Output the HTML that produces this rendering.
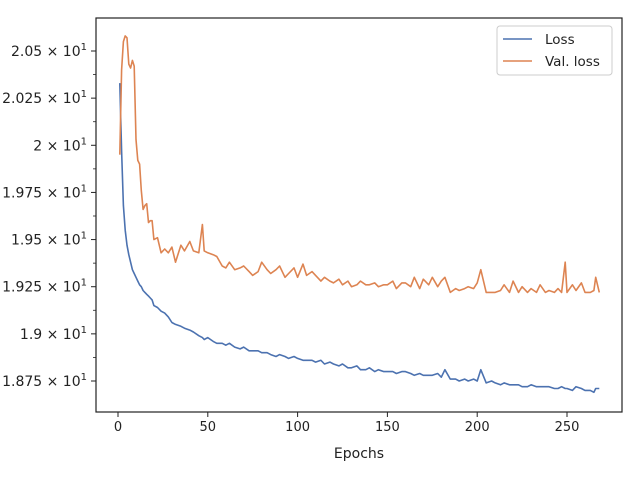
<!DOCTYPE html>
<html><head><meta charset="utf-8"><style>
html,body{margin:0;padding:0;background:#fff;}
svg text{font-family:"DejaVu Sans","Liberation Sans",sans-serif;fill:#222;}
</style></head><body>
<svg id="chart" width="640" height="480" viewBox="0 0 640 480" xmlns="http://www.w3.org/2000/svg"></svg>
<script>
const epochs = [1,2,3,4,5,6,7,8,9,10,11,12,13,14,15,16,17,18,19,20,22,24,26,28,30,32,35,37,40,42,45,47,48,50,53,55,58,60,62,65,68,70,73,75,78,80,83,85,88,90,93,95,98,100,103,105,108,110,113,115,118,120,123,125,128,130,133,135,138,140,143,145,148,150,153,155,158,160,163,165,168,170,173,175,178,180,182,185,188,190,193,195,198,200,202,205,208,210,213,215,218,220,223,225,228,230,233,235,238,240,243,245,247,249,250,253,255,258,260,263,265,266,268];
const loss = [20.33,19.97,19.68,19.55,19.47,19.42,19.38,19.34,19.32,19.30,19.28,19.26,19.25,19.23,19.22,19.21,19.20,19.19,19.18,19.15,19.14,19.12,19.11,19.09,19.06,19.05,19.04,19.03,19.02,19.01,18.99,18.98,18.97,18.98,18.96,18.95,18.95,18.94,18.95,18.93,18.92,18.93,18.91,18.91,18.91,18.90,18.90,18.89,18.88,18.89,18.88,18.87,18.88,18.87,18.86,18.86,18.86,18.85,18.86,18.84,18.85,18.84,18.83,18.84,18.82,18.82,18.83,18.81,18.81,18.82,18.80,18.81,18.80,18.80,18.80,18.79,18.80,18.80,18.79,18.78,18.79,18.78,18.78,18.78,18.79,18.77,18.81,18.76,18.76,18.75,18.76,18.75,18.76,18.75,18.81,18.74,18.75,18.74,18.73,18.74,18.73,18.73,18.73,18.72,18.72,18.73,18.72,18.72,18.72,18.72,18.71,18.71,18.72,18.71,18.71,18.70,18.72,18.71,18.70,18.70,18.69,18.71,18.71];
const val = [19.95,20.40,20.55,20.58,20.57,20.43,20.41,20.45,20.42,20.03,19.92,19.90,19.76,19.66,19.68,19.69,19.59,19.60,19.60,19.50,19.51,19.43,19.45,19.43,19.46,19.38,19.47,19.44,19.49,19.44,19.43,19.58,19.44,19.43,19.42,19.41,19.36,19.35,19.38,19.34,19.35,19.36,19.33,19.31,19.33,19.38,19.34,19.32,19.34,19.36,19.30,19.32,19.35,19.30,19.37,19.31,19.33,19.31,19.28,19.30,19.28,19.27,19.29,19.26,19.28,19.25,19.26,19.28,19.26,19.26,19.27,19.25,19.26,19.26,19.28,19.24,19.27,19.27,19.25,19.30,19.24,19.29,19.26,19.30,19.25,19.28,19.30,19.22,19.24,19.23,19.24,19.25,19.24,19.27,19.34,19.22,19.22,19.22,19.23,19.26,19.22,19.28,19.22,19.25,19.22,19.24,19.22,19.26,19.22,19.23,19.22,19.24,19.22,19.38,19.22,19.26,19.23,19.27,19.22,19.22,19.23,19.30,19.22];
const xTicks = [0,50,100,150,200,250];
const yTicks = [18.75,18.875,19,19.125,19.25,19.375,19.5,19.625,19.75,19.875,20,20.125,20.25,20.375,20.5];
const yMajor = [18.75,19,19.25,19.5,19.75,20,20.25,20.5];
const yLabels = ["1.875","1.9","1.925","1.95","1.975","2","2.025","2.05"];

const L=96,R=622,T=18,B=412;
const X = e => 118 + (e-0)*(567-118)/250;
const Y = v => 51 + (20.5-v)*188.57;
const svg=document.getElementById('chart');
const NS='http://www.w3.org/2000/svg';
function mk(tag,attrs,parent){const el=document.createElementNS(NS,tag);for(const k in attrs)el.setAttribute(k,attrs[k]);(parent||svg).appendChild(el);return el;}

const clip=mk('clipPath',{id:'pc'});mk('rect',{x:L,y:T,width:R-L,height:B-T},clip);

const lossPath=mk('path',{d:epochs.map((e,i)=>(i?'L':'M')+X(e).toFixed(1)+','+Y(loss[i]).toFixed(1)).join(''),fill:'none',stroke:'#4c72b0','stroke-width':1.6,'stroke-linejoin':'round','clip-path':'url(#pc)'});


const valPath=mk('path',{d:epochs.map((e,i)=>(i?'L':'M')+X(e).toFixed(1)+','+Y(val[i]).toFixed(1)).join(''),fill:'none',stroke:'#dd8452','stroke-width':1.6,'stroke-linejoin':'round','clip-path':'url(#pc)'});



const frame=mk('rect',{x:L,y:T,width:R-L,height:B-T,fill:'none',stroke:'#222','stroke-width':1.2});



xTicks.forEach(t=>{
  mk('line',{x1:X(t),x2:X(t),y1:B,y2:B+5,stroke:'#222','stroke-width':1});
  const tx=mk('text',{x:X(t),y:B+19,'text-anchor':'middle','font-size':13});
  tx.textContent=t;
  
  
});
yTicks.forEach(t=>{
  const maj=yMajor.includes(t);
  mk('line',{x1:L-(maj?5:3),x2:L,y1:Y(t),y2:Y(t),stroke:'#222','stroke-width':maj?1:0.8});
});
yMajor.forEach((t,i)=>{
  const tx=mk('text',{x:87,y:Y(t)+5,'text-anchor':'end','font-size':14});
  tx.textContent=yLabels[i]+' × 10';
  const s=mk('tspan',{dy:-6,'font-size':10},tx);s.textContent='1';
  
  
});
const xt=mk('text',{x:359,y:458,'text-anchor':'middle','font-size':14});
xt.textContent='Epochs';



const lg=mk('g',{});


mk('rect',{x:497,y:26,width:115,height:49,rx:3,fill:'#fff',stroke:'#ccc'},lg);
mk('line',{x1:503,x2:532,y1:39,y2:39,stroke:'#4c72b0','stroke-width':1.6},lg);
const l1=mk('text',{x:545,y:44,'font-size':13.5},lg);l1.textContent='Loss';


mk('line',{x1:503,x2:532,y1:61,y2:61,stroke:'#dd8452','stroke-width':1.6},lg);
const l2=mk('text',{x:545,y:66,'font-size':13.5},lg);l2.textContent='Val. loss';


</script>
</body></html>
